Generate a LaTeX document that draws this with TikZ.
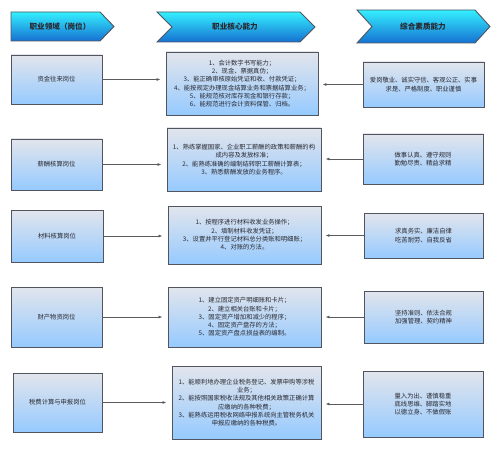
\documentclass[tikz,border=0pt]{standalone}
\usepackage{fontspec}
\setmainfont{Noto Sans CJK SC}
\usetikzlibrary{arrows.meta}
\definecolor{boxtop}{RGB}{226,229,236}
\definecolor{boxbot}{RGB}{150,202,255}
\definecolor{bordc}{RGB}{80,85,95}
\definecolor{txt}{RGB}{40,40,48}
\definecolor{htop}{RGB}{52,240,255}
\definecolor{hbot}{RGB}{22,112,210}
\definecolor{connc}{RGB}{90,90,95}
\begin{document}
\begin{tikzpicture}[x=1pt,y=-1pt,
  box/.style={draw=bordc, line width=0.9pt, top color=boxtop, bottom color=boxbot,
    align=center, font=\fontsize{6.3}{8.3}\selectfont, text=txt, inner sep=1pt},
  hdr/.style={draw=bordc, line width=0.9pt, top color=htop, bottom color=hbot},
  hdrtext/.style={font=\fontsize{7.6}{9}\selectfont\bfseries, text=txt, inner sep=0pt},
  conn/.style={draw=connc, line width=0.8pt, -{Latex[length=4pt,width=3pt]}}]
\useasboundingbox (0,0) rectangle (500,449);
% headers
\path[hdr] (11,12) -- (100,12) -- (114,26.5) -- (100,41) -- (11,41) -- cycle;
\path[hdr] (157,12) -- (300,12) -- (315,27) -- (300,42) -- (157,42) -- (172,27) -- cycle;
\path[hdr] (357,10) -- (475,10) -- (490,26.5) -- (475,43) -- (357,43) -- (372,26.5) -- cycle;
\node[hdrtext] (h1) at (60,26.5) {职业领域（岗位）};
\node[hdrtext] (h2) at (235,27) {职业核心能力};
\node[hdrtext] (h3) at (423,26.5) {综合素质能力};
% row 1
\node[box, minimum width=91pt, minimum height=49pt] (l1) at (56.5,79.5) {资金往来岗位};
\node[box, minimum width=152pt, minimum height=63pt] (c1) at (242,83.5) {1、会计数字书写能力；\\2、现金、票据真伪；\\3、能正确审核原始凭证和收、付款凭证；\\4、能按规定办理现金结算业务和票据结算业务；\\5、能规范核对库存现金和银行存款；\\6、能规范进行会计资料保管、归档。};
\node[box, minimum width=121pt, minimum height=45pt] (r1) at (423.5,84.5) {爱岗敬业、诚实守信、客观公正、实事\\求是、严格制度、职业谨慎};
% row 2
\node[box, minimum width=91pt, minimum height=51pt] (l2) at (56.5,164.5) {薪酬核算岗位};
\node[box, minimum width=154pt, minimum height=63pt] (c2) at (244,159.5) {1、熟练掌握国家、企业职工薪酬的政策和薪酬的构\\成内容及发放标准；\\2、能熟练准确的编制结转职工薪酬计算表；\\3、熟悉薪酬发放的业务程序。};
\node[box, minimum width=120pt, minimum height=50pt] (r2) at (423,159) {做事认真、遵守规则\\勤勉尽责、精益求精};
% row 3
\node[box, minimum width=92pt, minimum height=52pt] (l3) at (57,236) {材料核算岗位};
\node[box, minimum width=153pt, minimum height=58pt] (c3) at (244.5,235) {1、按程序进行材料收发业务操作；\\2、填制材料收发凭证；\\3、设置并平行登记材料总分类账和明细账；\\4、对账的方法。};
\node[box, minimum width=119pt, minimum height=45pt] (r3) at (423.5,235.5) {求真务实、廉洁自律\\吃苦耐劳、自我反省};
% row 4
\node[box, minimum width=91pt, minimum height=60pt] (l4) at (56.5,317) {财产物资岗位};
\node[box, minimum width=153pt, minimum height=60pt] (c4) at (244.5,317) {1、建立固定资产明细账和卡片；\\2、建立相关台账和卡片；\\3、固定资产增加和减少的程序；\\4、固定资产盘存的方法；\\5、固定资产盘点损益表的编制。};
\node[box, minimum width=119pt, minimum height=52pt] (r4) at (423.5,317) {坚持准则、依法合规\\加强管理、契约精神};
% row 5
\node[box, minimum width=89pt, minimum height=59pt] (l5) at (57.5,402.5) {税费计算与申报岗位};
\node[box, minimum width=149pt, minimum height=73pt] (c5) at (246.5,402.5) {1、能顺利地办理企业税务登记、发票申购等涉税\\业务；\\2、能按照国家税收法规及其他相关政策正确计算\\应缴纳的各种税费；\\3、能熟练运用税收网络申报系统向主管税务机关\\申报应缴纳的各种税费。};
\node[box, minimum width=120pt, minimum height=66pt] (r5) at (423,404) {量入为出、谨慎稳重\\底线思维、脚踏实地\\以德立身、不做假账};
% connectors
\foreach \i in {1,...,5}{
  \draw[conn, shorten >=5pt] (l\i.east) -- (l\i.east -| c\i.west);
  \draw[conn, shorten >=4pt] (r\i.west) -- (r\i.west -| c\i.east);
}
\end{tikzpicture}
\end{document}
